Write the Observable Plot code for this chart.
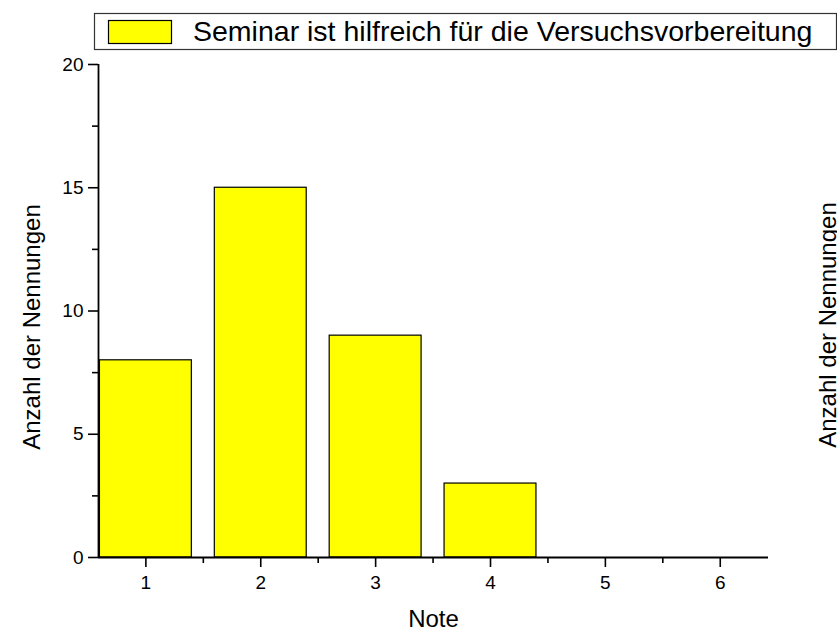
<!DOCTYPE html>
<html>
<head>
<meta charset="utf-8">
<script src="https://cdn.jsdelivr.net/npm/d3@7"></script>
<script src="https://cdn.jsdelivr.net/npm/@observablehq/plot@0.6"></script>
<style>
  html, body { margin: 0; padding: 0; background: #fff; }
  #chart { width: 837px; height: 636px; overflow: hidden; }
  svg { font-family: "Liberation Sans", Arial, sans-serif; }
</style>
</head>
<body>
<div id="chart"></div>
<script>
const notes = [1, 2, 3, 4, 5, 6];
const counts = [8, 15, 9, 3, 0, 0];
const xTicks = [1, 2, 3, 4, 5, 6];
const xMinor = [1.5, 2.5, 3.5, 4.5, 5.5];
const yTicks = [0, 5, 10, 15, 20];
const yMinor = [2.5, 7.5, 12.5, 17.5];
const xDomain = [0.5875, 6.42];
const yDomain = [0, 20];
const barHalfWidth = 0.4;
const legendLabel = "Seminar ist hilfreich für die Versuchsvorbereitung";
const xLabel = "Note";
const yLabel = "Anzahl der Nennungen";

const data = notes.map((n, i) => ({note: n, count: counts[i]}));
const font = "Liberation Sans, Arial, sans-serif";

const chart = Plot.plot({
  width: 837,
  height: 636,
  marginLeft: 98,
  marginRight: 69,
  marginTop: 64,
  marginBottom: 79,
  style: {background: "#fff", color: "#000", fontFamily: font, fontSize: "19px"},
  x: {domain: xDomain, axis: null},
  y: {domain: yDomain, axis: null},
  marks: [
    Plot.rectY(data, {
      x1: d => d.note - barHalfWidth,
      x2: d => d.note + barHalfWidth,
      y1: 0,
      y2: "count",
      fill: "#ffff00",
      stroke: "#000",
      strokeWidth: 1.2
    }),
    Plot.axisX(xTicks, {label: null, tickSize: 10, tickPadding: 8, fontSize: 19, strokeWidth: 1.6, tickFormat: d => String(d)}),
    Plot.axisX(xMinor, {label: null, tickSize: 6, text: null, strokeWidth: 1.6}),
    Plot.axisY(yTicks, {label: null, tickSize: 10, tickPadding: 5, fontSize: 19, strokeWidth: 1.6, tickFormat: d => String(d)}),
    Plot.axisY(yMinor, {label: null, tickSize: 6, text: null, strokeWidth: 1.6}),
    Plot.ruleY([yDomain[0]], {stroke: "#000", strokeWidth: 1.8}),
    Plot.ruleX([xDomain[0]], {stroke: "#000", strokeWidth: 1.8})
  ]
});

document.getElementById("chart").appendChild(chart);

const svg = d3.select(chart);
svg.selectAll("text").style("font-size", "19px");

// Legend
const leg = svg.append("g").attr("text-anchor", "start");
leg.append("rect").attr("x", 94.5).attr("y", 13.5).attr("width", 742).attr("height", 36)
  .attr("fill", "#fff").attr("stroke", "#333").attr("stroke-width", 1.2);
leg.append("rect").attr("x", 108.5).attr("y", 20.5).attr("width", 63).attr("height", 23)
  .attr("fill", "#ffff00").attr("stroke", "#000").attr("stroke-width", 1.2);
leg.append("text").attr("x", 193).attr("y", 41).style("font-size", "28.5px").attr("text-anchor", "start")
  .attr("font-family", font).attr("fill", "#000").text(legendLabel);

// Axis labels
svg.append("text").attr("x", 433.5).attr("y", 627).attr("text-anchor", "middle")
  .style("font-size", "24px").attr("font-family", font).attr("fill", "#000").text(xLabel);
svg.append("text").attr("transform", "translate(40,327) rotate(-90)").attr("text-anchor", "middle")
  .style("font-size", "24px").attr("font-family", font).attr("fill", "#000").text(yLabel);
// Cut-off label of the neighbouring chart at the right edge
svg.append("text").attr("transform", "translate(836,325) rotate(-90)").attr("text-anchor", "middle")
  .style("font-size", "24px").attr("font-family", font).attr("fill", "#000").text(yLabel);
</script>
</body>
</html>
